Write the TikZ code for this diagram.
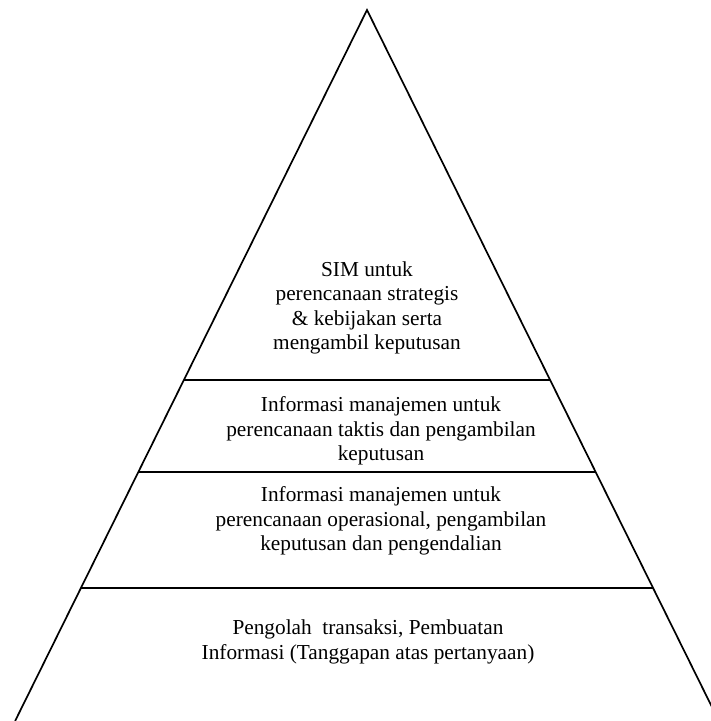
\documentclass[tikz,border=0pt]{standalone}
\usepackage{fontspec}
\setmainfont{Liberation Serif}
\begin{document}
\begin{tikzpicture}[x=1pt,y=-1pt,
  edge/.style={line width=1.7pt,black},
  label/.style={align=center,font=\fontsize{21.3}{24.6}\selectfont,inner sep=0pt}]
  \useasboundingbox (0,0) rectangle (711,721);
  \clip (0,0) rectangle (711,721);
  % pyramid outline
  \coordinate (apex) at (367,10);
  \coordinate (footL) at (15.1,721);
  \coordinate (footR) at (718.9,721);
  \draw[edge,line join=miter] (footL) -- (apex) -- (footR);
  % level dividers
  \coordinate (l1L) at (183.8,380);  \coordinate (l1R) at (550.2,380);
  \coordinate (l2L) at (138.3,472);  \coordinate (l2R) at (595.7,472);
  \coordinate (l3L) at (80.9,588);   \coordinate (l3R) at (653.1,588);
  \draw[edge] (l1L) -- (l1R);
  \draw[edge] (l2L) -- (l2R);
  \draw[edge] (l3L) -- (l3R);
  % level texts
  \node[label] (strategic) at (367,308) {SIM untuk\\perencanaan strategis\\\& kebijakan serta\\mengambil keputusan};
  \node[label] (tactical) at (381,431) {Informasi manajemen untuk\\perencanaan taktis dan pengambilan\\keputusan};
  \node[label] (operational) at (381,521) {Informasi manajemen untuk\\perencanaan operasional, pengambilan\\keputusan dan pengendalian};
  \node[label] (transaction) at (368,642) {Pengolah\ \ transaksi, Pembuatan\\Informasi (Tanggapan atas pertanyaan)};
\end{tikzpicture}
\end{document}
